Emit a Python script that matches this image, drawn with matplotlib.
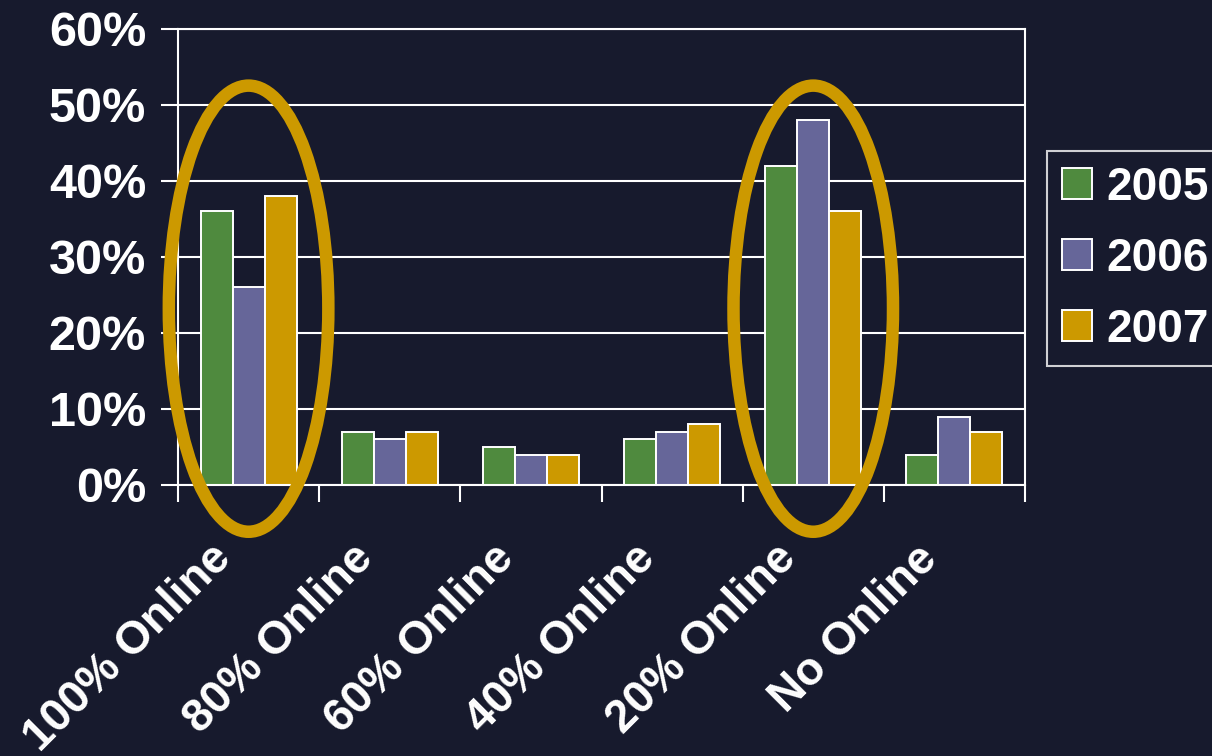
import matplotlib
matplotlib.use("Agg")
import matplotlib.pyplot as plt
import matplotlib.transforms as mtransforms
from matplotlib.patches import Ellipse
import numpy as np

categories = ["100% Online", "80% Online", "60% Online", "40% Online", "20% Online", "No Online"]
series_names = ["2005", "2006", "2007"]
values_2005 = [36, 7, 5, 6, 42, 4]
values_2006 = [26, 6, 4, 7, 48, 9]
values_2007 = [38, 7, 4, 8, 36, 7]
y_ticks = [0, 10, 20, 30, 40, 50, 60]
highlight_categories = [0, 4]

BG = "#171a2d"
COLORS = ["#4f8a3e", "#666699", "#cc9900"]
GOLD = "#cc9900"

plt.rcParams['font.family'] = ['Liberation Sans', 'DejaVu Sans']
plt.rcParams['font.weight'] = 'bold'

fig = plt.figure(figsize=(12.12, 7.56), dpi=100, facecolor=BG)
ax = fig.add_axes([178/1212, 1-485/756, (1025-178)/1212, (485-29)/756])
ax.set_facecolor(BG)

x = np.arange(len(categories))
w = 0.227
for i, (vals, name) in enumerate(zip([values_2005, values_2006, values_2007], series_names)):
    ax.bar(x + (i-1)*w, vals, width=w, color=COLORS[i], edgecolor="white",
           linewidth=1.4, label=name, zorder=2)

ax.set_xlim(-0.5, len(categories)-0.5)
ax.set_ylim(0, 60)
ax.set_axisbelow(True)
ax.yaxis.grid(True, color="white", linewidth=1.5, zorder=0)
ax.set_yticks(y_ticks)
ax.set_yticklabels([f"{v}%" for v in y_ticks])

# category boundary ticks
ax.set_xticks(np.arange(-0.5, len(categories), 1.0))
ax.set_xticklabels([])
ax.set_xticks(x, minor=True)
ax.set_xticklabels(categories, minor=True, rotation=45, ha="right", va="top",
                   fontsize=33, fontweight="bold", color="white")
ax.tick_params(axis="x", which="major", direction="out", length=12, width=1.5, color="white")
ax.tick_params(axis="x", which="minor", length=0, pad=37)
ax.tick_params(axis="y", direction="out", length=12, width=1.5, color="white",
               labelsize=35, labelcolor="white", pad=11)
for lab in ax.get_yticklabels():
    lab.set_fontweight("bold")
offset = mtransforms.ScaledTranslation(-8/100, 0, fig.dpi_scale_trans)
for lab in ax.get_xticklabels(minor=True):
    lab.set_transform(lab.get_transform() + offset)

for s in ax.spines.values():
    s.set_color("white")
    s.set_linewidth(1.5)

for c in highlight_categories:
    e = Ellipse((c, 23.2), width=1.13, height=58.7, fill=False, edgecolor=GOLD,
                linewidth=9, zorder=5, clip_on=False)
    ax.add_patch(e)

leg = fig.legend(loc="upper left", bbox_to_anchor=(1047/1212, 1-151/756),
                 frameon=True, fancybox=False, facecolor=BG, edgecolor="white",
                 prop={"size": 33, "weight": "bold"}, handlelength=0.66, handleheight=0.66,
                 handletextpad=0.32, labelspacing=0.59, borderpad=0.32, borderaxespad=0)
leg.get_frame().set_linewidth(1.5)
for t in leg.get_texts():
    t.set_color("white")

fig.savefig("out.png", dpi=100, facecolor=BG)
